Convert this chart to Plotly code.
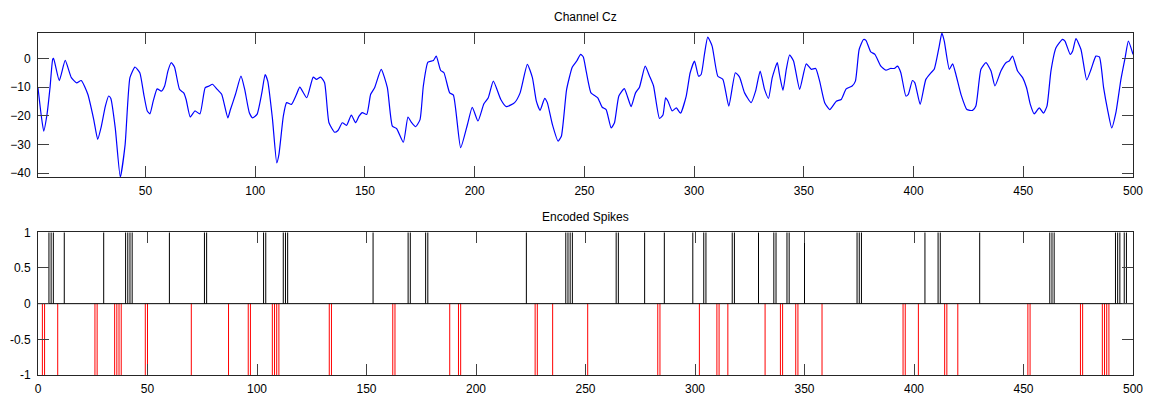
import plotly.graph_objects as go

# ---- Channel Cz signal ----
sig_x = [1, 2.5, 3.6, 5.1, 6.5, 7.7, 8.1, 10.7, 13.4, 16.2, 18.6, 20.7, 23.7, 26.4, 28.2, 29.7,
         31.7, 33.2, 34.2, 36.2, 38.5, 40.7, 42.9, 45.2, 47.4, 49.2, 50.8, 52, 53.5, 55.3, 57.2,
         58.7, 60.2, 61.7, 63.2, 65.5, 67.4, 68.5, 70.4, 72.5, 74.8, 77.2, 79, 80.5, 82.7, 84.7,
         87.5, 88.7, 91, 93.5, 95.2, 97.3, 98.8, 100.8, 103, 104.5, 105.7, 107.8, 109.8, 110.8,
         112.8, 114.3, 116.5, 118.8, 120.3, 123.5, 126.4, 127.9, 129.8, 131.6, 133.6, 136.2,
         137.7, 139.7, 141.6, 143.8, 145.7, 147.3, 148.8, 150.8, 152.6, 154.4, 157.4, 160.2,
         162.5, 164.4, 167.5, 169.6, 171.1, 173.1, 175.1, 176.6, 178.7, 181.2, 182.5, 184.5,
         186, 188.6, 190.3, 193.6, 196.7, 198.9, 201.5, 204.2, 206.2, 208.5, 211.9, 214.4,
         218.2, 220.7, 224, 226.3, 228.1, 229.8, 231.9, 233.1, 235.4, 238, 239.5, 241.9, 244.5,
         246.5, 248.3, 249.5, 250.8, 253, 255, 256.1, 258.1, 259.9, 262.2, 263.7, 265.7, 268.2,
         269.8, 271.3, 273.3, 275.1, 277.7, 279.7, 281.5, 284.2, 285.8, 287, 288.1, 290, 291.9,
         293.8, 296.4, 298.2, 300.2, 302, 303.2, 304.7, 306.2, 308.2, 310.8, 313.1, 315.8,
         318.8, 320.7, 323, 326, 328, 330.1, 332.1, 333.9, 335.6, 337.9, 338.9, 340.5, 342,
         343.5, 345.3, 348.1, 351.1, 353.4, 355.4, 357.2, 359.5, 361.8, 364.8, 367, 369.3, 372,
         373.5, 375.2, 377.2, 378.3, 380.5, 382.4, 385.1, 387.4, 389.4, 391.2, 392.7, 394.2,
         396.5, 397.6, 399.5, 400.6, 403, 405.6, 407.9, 409.4, 411.7, 412.9, 414, 416.3, 417.8,
         419.3, 421.6, 424.3, 426.9, 428.4, 430.7, 433, 435.3, 437.1, 439.8, 442.1, 443.6,
         445.1, 447.4, 449.7, 451.5, 453.2, 455, 457.3, 459.2, 460.8, 462.6, 464.9, 467.9, 469,
         471.4, 472.5, 474, 476.3, 478.9, 480.9, 483.1, 484.7, 486.6, 488.4, 490.3, 492.2,
         494.5, 496.4, 497.9, 500]
sig_y = [-10.2, -20, -25.3, -19.5, -10, -0.3, 0, -7.7, -0.7, -6.7, -8.5, -7.7, -12.5, -21.3, -28.2, -24.2,
         -16.6, -13.1, -14, -24.2, -41.3, -30, -6.7, -3, -5, -12.5, -18.3, -19.3, -14.9, -10.6, -11.4,
         -9.6, -4.4, -1.5, -3, -10.8, -12, -14.3, -20.4, -18.3, -19.3, -10.2, -9.6, -9, -10.8, -12.5,
         -20.7, -17.8, -12.5, -6.2, -10.8, -18.9, -20.7, -19.5, -12, -5.6, -7.9, -20.7, -36.4, -33.4,
         -20.1, -15.4, -16, -12.5, -10, -13.7, -6.5, -7.3, -6.5, -8.5, -22.4, -25.7,
         -25.1, -22.4, -23.3, -19.7, -22.4, -20.1, -18.9, -19.5, -12.5, -10.2, -3.8, -10.2,
         -23.6, -24.4, -29.2, -20.4, -22.2, -23.8, -21.3, -9.6, -1.3, -0.7, 0.8, -4.2,
         -5, -12, -12.8, -31.1, -23, -17, -21.8, -15.8, -13.7, -7.9, -14.3, -16.8,
         -15.4, -12, -2.1, -6.7, -14.9, -18.1, -13.9, -15.4, -23, -28.8, -27.1, -10.8, -3,
         -0.9, 1.4, 0.5, -4.4, -12, -13.1, -13.7, -17, -17.8, -24.2, -22.4, -13.1, -10.5,
         -13.7, -16.8, -12, -10, -2.7, -6.2, -9.6, -20.9, -19.7, -13.7, -14.9, -18.3, -17.2,
         -19.1, -13.1, -5, -0.9, -6.2, -5.6, 1.4, 7.4, 4.3, -6.2, -7.3, -16.6,
         -5, -6.5, -12, -15.4, -11.4, -4.4, -10.8, -13.9, -6.7, -1.5, -5.6, -11.1, -3.8,
         1.2, -0.9, -10.8, -1.9, -3.8, -3.5, -7.9, -15.4, -17.8, -14.9, -14.3, -10.6, -9.6,
         -7.9, 3.1, 6.6, 6.3, 2.3, 1.4, -2.7, -4.1, -3.5, -3.5, -2.7, -5,
         -13.1, -12.5, -7.7, -8.5, -16, -7.3, -5, -3.8, 4.3, 8.85, 6, -3.8, -1.9,
         -5.6, -12.5, -17.8, -18.1, -16.6, -3.8, -1.5, -4.4, -9.6, -4.4, -1.5, -0.9,
         0.8, -4.4, -6.7, -10.2, -16, -19.3, -17.2, -19.1, -16.6, -4.4, 3.7, 6.6, 6,
         1.4, 2.6, 6.9, 3.1, -7.5, -3.8, 0.8, 0.5, -10.2, -17.8, -24.2, -18.9,
         -7.3, 0.2, 6, 1.4]

# ---- Encoded spikes (sample indices) ----
pos_spikes = [5, 6, 7, 12, 30, 40, 41, 42, 43, 60, 76, 77, 103, 104, 112, 113, 114,
              153, 169, 170, 177, 178, 223, 241, 242, 243, 244,
              264, 265, 277, 286, 299, 304, 305, 317, 318, 329, 336, 337, 342, 343, 350,
              374, 375, 376, 405, 411, 412, 430, 462, 463, 464, 492, 493, 494, 496, 497]
neg_spikes = [2, 3, 9, 26, 27, 35, 36, 37, 38, 49, 50, 70, 87, 96, 97, 107, 108, 109, 110,
              133, 134, 162, 163, 188, 192, 193, 227, 228, 235, 251, 283, 284, 302,
              310, 311, 315, 332, 339, 340, 346, 347, 358, 395, 396, 402, 414, 415, 420,
              452, 453, 476, 477, 486, 487, 488, 489]

top_xticks = [50, 100, 150, 200, 250, 300, 350, 400, 450, 500]
top_yticks = [-40, -30, -20, -10, 0]
bot_xticks = [0, 50, 100, 150, 200, 250, 300, 350, 400, 450, 500]
bot_yticks = [-1, -0.5, 0, 0.5, 1]
bot_yticklabels = ["-1", "-0.5", "0", "0.5", "1"]


def stems(positions, height):
    xs, ys = [], []
    for p in positions:
        xs += [p, p, None]
        ys += [0, height, None]
    return xs, ys


fig = go.Figure()
fig.add_trace(go.Scatter(x=sig_x, y=sig_y, mode="lines",
                         line=dict(color="#0000FF", width=1.2, shape="spline", smoothing=0.5),
                         xaxis="x", yaxis="y", showlegend=False, hoverinfo="skip"))
px_, py_ = stems(pos_spikes, 1)
fig.add_trace(go.Scatter(x=px_, y=py_, mode="lines", line=dict(color="#000000", width=1),
                         xaxis="x2", yaxis="y2", showlegend=False, hoverinfo="skip"))
nx_, ny_ = stems(neg_spikes, -1)
fig.add_trace(go.Scatter(x=nx_, y=ny_, mode="lines", line=dict(color="#FF0000", width=1),
                         xaxis="x2", yaxis="y2", showlegend=False, hoverinfo="skip"))
# baseline at 0
fig.add_trace(go.Scatter(x=[0, 500], y=[0, 0], mode="lines", line=dict(color="#000000", width=1),
                         xaxis="x2", yaxis="y2", showlegend=False, hoverinfo="skip"))

axis_common = dict(showline=True, linecolor="#262626", linewidth=1, mirror="ticks",
                   ticks="inside", ticklen=11, tickcolor="#404040", tickwidth=1,
                   showgrid=False, zeroline=False, automargin=False,
                   tickfont=dict(family="Liberation Sans, Arial, sans-serif", size=12, color="#000000"))

fig.update_layout(
    width=1152, height=401,
    margin=dict(l=38, r=19, t=33, b=26, autoexpand=False),
    paper_bgcolor="white", plot_bgcolor="white",
    xaxis=dict(domain=[0, 1], range=[1, 500], tickvals=top_xticks, anchor="y",
               ticklabelstandoff=3, **axis_common),
    yaxis=dict(domain=[0.5789, 1], range=[-41.3, 8.85], tickvals=top_yticks, anchor="x",
               ticklabelstandoff=4, **axis_common),
    xaxis2=dict(domain=[0, 1], range=[0, 500], tickvals=bot_xticks, anchor="y2",
                ticklabelstandoff=3, **axis_common),
    yaxis2=dict(domain=[0, 0.4172], range=[-1, 1], tickvals=bot_yticks, ticktext=bot_yticklabels,
                anchor="x2", ticklabelstandoff=4, **axis_common),
    annotations=[
        dict(text="Channel Cz", x=0.5, xref="paper", y=1.047, yref="paper",
             xanchor="center", yanchor="middle", showarrow=False,
             font=dict(family="Liberation Sans, Arial, sans-serif", size=12, color="#000000")),
        dict(text="Encoded Spikes", x=0.5, xref="paper", y=0.462, yref="paper",
             xanchor="center", yanchor="middle", showarrow=False,
             font=dict(family="Liberation Sans, Arial, sans-serif", size=12, color="#000000")),
    ],
)

fig.write_html("out.html")
